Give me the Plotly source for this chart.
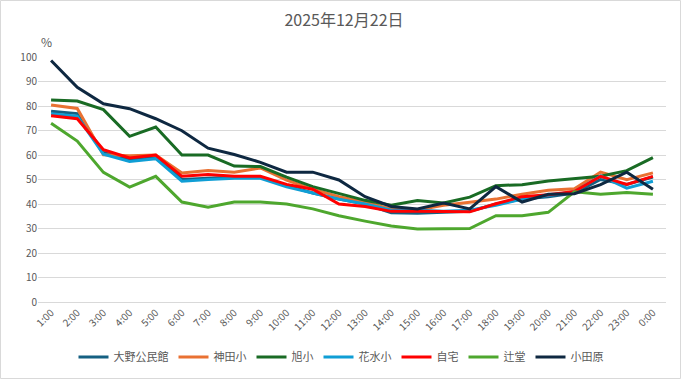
import plotly.graph_objects as go

hours = ["1:00","2:00","3:00","4:00","5:00","6:00","7:00","8:00","9:00","10:00","11:00","12:00",
         "13:00","14:00","15:00","16:00","17:00","18:00","19:00","20:00","21:00","22:00","23:00","0:00"]

ono = [77.9, 76.9, 61.0, 58.0, 59.0, 50.0, 50.5, 51.0, 51.0, 47.5, 44.5, 42.0,
       40.0, 36.4, 36.2, 36.5, 37.0, 40.0, 42.0, 43.0, 44.5, 50.0, 48.0, 51.0]
kanda = [80.4, 79.0, 60.1, 59.7, 60.0, 52.7, 53.7, 53.0, 54.7, 49.8, 46.0, 43.0,
         40.7, 38.0, 37.6, 39.5, 40.7, 42.0, 44.0, 45.6, 46.2, 53.0, 49.9, 52.7]
asahi = [82.4, 82.0, 78.5, 67.6, 71.4, 60.0, 60.0, 55.5, 55.3, 51.0, 47.1, 44.2,
         41.5, 39.5, 41.4, 40.4, 42.8, 47.5, 47.9, 49.4, 50.2, 51.3, 53.6, 58.9]
hanamizu = [76.8, 75.8, 60.3, 57.4, 58.5, 49.3, 50.0, 50.5, 50.5, 47.0, 44.5, 42.0,
            40.0, 37.5, 37.5, 37.0, 37.5, 39.5, 42.0, 43.5, 45.0, 51.5, 46.5, 49.3]
jitaku = [76.0, 74.8, 62.2, 58.8, 60.0, 51.3, 52.0, 51.3, 51.3, 48.0, 46.0, 40.0,
          39.0, 37.0, 37.0, 36.8, 36.8, 40.1, 43.0, 43.8, 45.1, 51.3, 48.0, 51.3]
tsujido = [73.0, 65.7, 52.9, 46.9, 51.3, 40.8, 38.7, 40.8, 40.8, 40.0, 38.0, 35.2,
           33.0, 31.0, 29.8, 30.0, 30.0, 35.2, 35.2, 36.6, 45.0, 44.0, 44.7, 44.0]
odawara = [98.6, 87.6, 80.9, 78.9, 74.8, 69.9, 62.8, 60.2, 57.0, 53.0, 53.0, 49.8,
           43.0, 39.0, 38.0, 40.4, 38.0, 47.1, 40.8, 44.0, 44.2, 47.9, 53.0, 46.0]

series_names = ["大野公民館", "神田小", "旭小", "花水小", "自宅", "辻堂", "小田原"]
series_values = [ono, kanda, asahi, hanamizu, jitaku, tsujido, odawara]
series_colors = ["#156082", "#E97132", "#196B24", "#0F9ED5", "#FF0000", "#4EA72E", "#0E2841"]

y_ticks = list(range(0, 101, 10))

fig = go.Figure()
for name, vals, col in zip(series_names, series_values, series_colors):
    fig.add_trace(go.Scatter(x=hours, y=vals, name=name, mode="lines",
                             line=dict(color=col, width=3)))

W, H = 681, 379
ml, mr, mt, mb = 38, 15, 57, 77
pw, ph = W - ml - mr, H - mt - mb

font_family = "Noto Sans CJK JP, Noto Sans, sans-serif"
txt = "#595959"

fig.update_layout(
    width=W, height=H,
    margin=dict(l=ml, r=mr, t=mt, b=mb, autoexpand=False),
    paper_bgcolor="white", plot_bgcolor="white",
    font=dict(family=font_family, color=txt, size=11),
    title=dict(text="2025年12月22日", x=(344 - 0) / W, xanchor="center", y=1 - 20 / H, yanchor="middle",
               font=dict(size=16, color=txt, family=font_family)),
    showlegend=True,
    legend=dict(orientation="h", x=(341 - ml) / pw, xanchor="center",
                y=-(357 - (H - mb)) / ph, yanchor="middle",
                font=dict(size=11, color=txt), itemwidth=30, traceorder="normal"),
    xaxis=dict(type="category", range=[-0.5, 23.5], tickangle=-45, showgrid=False,
               showline=True, linecolor="#d9d9d9", ticks="", automargin=False,
               tickfont=dict(size=10, color=txt)),
    yaxis=dict(range=[0, 100], tickvals=y_ticks, showgrid=True, gridcolor="#d9d9d9",
               gridwidth=1, zeroline=False, showline=False, ticks="", automargin=False,
               tickfont=dict(size=10, color=txt)),
)

fig.add_annotation(text="%", xref="paper", yref="paper", x=(46 - ml) / pw, y=1 + (mt - 42) / ph,
                   showarrow=False, font=dict(size=12, color=txt), xanchor="center", yanchor="middle")

fig.add_shape(type="rect", xref="paper", yref="paper",
              x0=(0.5 - ml) / pw, x1=(W - 0.5 - ml) / pw,
              y0=-(mb - 0.5) / ph, y1=1 + (mt - 0.5) / ph,
              line=dict(color="#d9d9d9", width=1), fillcolor="rgba(0,0,0,0)", layer="below")

fig.write_html("out.html", config={"displayModeBar": False},
               post_script="document.body.style.margin='0';document.body.style.padding='0';")
